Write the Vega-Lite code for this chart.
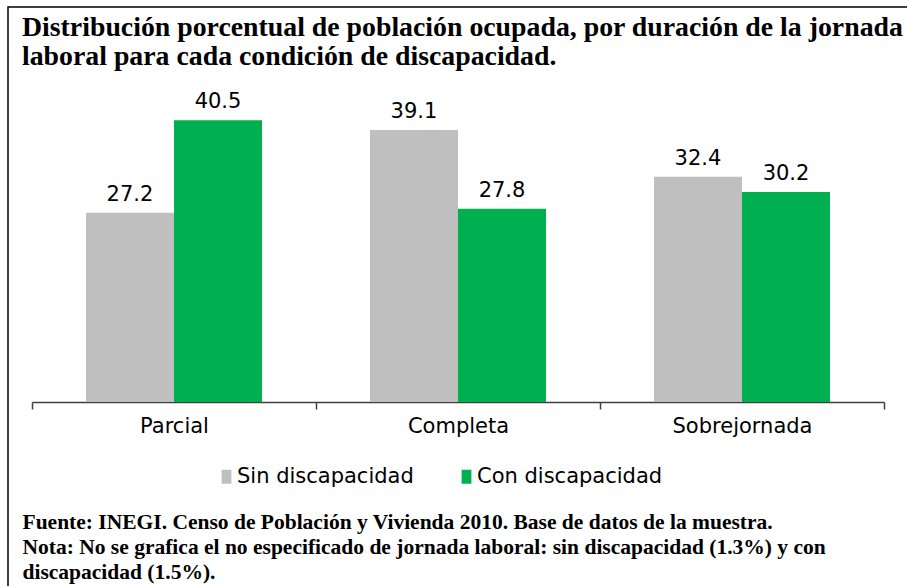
{
  "$schema": "https://vega.github.io/schema/vega-lite/v6.json",
  "width": 899,
  "height": 579,
  "autosize": {"type": "none"},
  "padding": {"left": 8, "top": 7, "right": 0, "bottom": 0},
  "background": "white",
  "title": {
    "text": ["Distribución porcentual de población ocupada, por duración de la jornada", "laboral para cada condición de discapacidad."],
    "anchor": "start",
    "frame": "group",
    "font": "Liberation Serif",
    "fontSize": 27.8,
    "fontWeight": "bold",
    "color": "#000000",
    "dx": 14,
    "offset": -59,
    "dy": 27,
    "baseline": "alphabetic",
    "lineHeight": 29
  },
  "data": {
    "values": [
      {"jornada": "Parcial", "condicion": "Sin discapacidad", "valor": 27.2},
      {"jornada": "Parcial", "condicion": "Con discapacidad", "valor": 40.5},
      {"jornada": "Completa", "condicion": "Sin discapacidad", "valor": 39.1},
      {"jornada": "Completa", "condicion": "Con discapacidad", "valor": 27.8},
      {"jornada": "Sobrejornada", "condicion": "Sin discapacidad", "valor": 32.4},
      {"jornada": "Sobrejornada", "condicion": "Con discapacidad", "valor": 30.2}
    ]
  },
  "encoding": {
    "x": {
      "field": "jornada",
      "type": "nominal",
      "sort": ["Parcial", "Completa", "Sobrejornada"],
      "scale": {"range": [24, 876], "paddingInner": 0, "paddingOuter": 0},
      "axis": {
        "offset": -184,
        "grid": false,
        "labelAngle": 0,
        "tickBand": "extent",
        "domainColor": "#404040",
        "domainWidth": 1.5,
        "tickColor": "#404040",
        "tickWidth": 1.5,
        "tickSize": 7,
        "labelFont": "DejaVu Sans",
        "labelFontSize": 21,
        "labelColor": "#000000",
        "labelPadding": 6,
        "title": ["Fuente: INEGI. Censo de Población y Vivienda 2010. Base de datos de la muestra.", "Nota: No se grafica el no especificado de jornada laboral: sin discapacidad (1.3%) y con", "discapacidad (1.5%)."],
        "titleFont": "Liberation Serif",
        "titleFontSize": 21.5,
        "titleFontWeight": "bold",
        "titleColor": "#000000",
        "titleAnchor": "start",
        "titleAlign": "left",
        "titleX": 14,
        "titleY": 126,
        "titleBaseline": "alphabetic",
        "titleLineHeight": 25
      }
    },
    "xOffset": {
      "field": "condicion",
      "type": "nominal",
      "sort": ["Sin discapacidad", "Con discapacidad"],
      "scale": {"paddingInner": 0, "paddingOuter": 0.6136}
    },
    "y": {
      "field": "valor",
      "type": "quantitative",
      "scale": {"domain": [0, 45], "range": [395, 82]},
      "axis": null
    }
  },
  "layer": [
    {
      "mark": {"type": "bar"},
      "encoding": {
        "color": {
          "field": "condicion",
          "type": "nominal",
          "sort": ["Sin discapacidad", "Con discapacidad"],
          "scale": {"domain": ["Sin discapacidad", "Con discapacidad"], "range": ["#BFBFBF", "#00B050"]},
          "legend": {
            "orient": "none",
            "legendX": 208,
            "legendY": 459,
            "direction": "horizontal",
            "title": null,
            "symbolType": "M-0.7,-1H0.7V1H-0.7Z",
            "symbolSize": 196,
            "symbolStrokeWidth": 0,
            "symbolOpacity": 1,
            "labelFont": "DejaVu Sans",
            "labelFontSize": 21,
            "labelColor": "#000000",
            "labelLimit": 400,
            "labelOffset": 0,
            "columnPadding": 42,
            "padding": 0
          }
        }
      }
    },
    {
      "mark": {"type": "text", "dy": -12, "baseline": "alphabetic", "font": "DejaVu Sans", "fontSize": 21, "color": "#000000"},
      "encoding": {"text": {"field": "valor", "type": "quantitative", "format": ".1f"}}
    }
  ],
  "config": {
    "view": {"stroke": "#000000", "strokeWidth": 1.5, "strokeDash": [899, 1478, 579, 1]}
  }
}
